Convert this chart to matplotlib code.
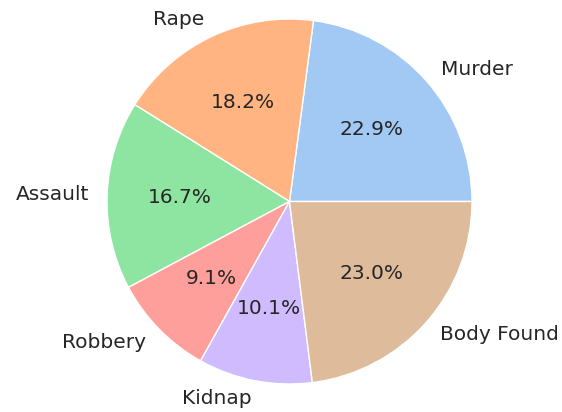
import matplotlib
matplotlib.use("Agg")
import matplotlib.pyplot as plt
import seaborn as sns

labels = ["Murder", "Rape", "Assault", "Robbery", "Kidnap", "Body Found"]
values = [22.9, 18.2, 16.7, 9.1, 10.1, 23.0]

sns.set_theme(style="white")
colors = sns.color_palette("pastel")[:len(labels)]

W, H = 562, 412
fig = plt.figure(figsize=(W / 100, H / 100), dpi=100)
R = 182.5
cx, cy = 289.5, H - 201.5
half = 1.25 * R
ax = fig.add_axes([(cx - half) / W, (cy - half) / H, 2 * half / W, 2 * half / H])
ax.pie(values, labels=labels, colors=colors, autopct="%1.1f%%",
       wedgeprops=dict(edgecolor="white", linewidth=1),
       textprops=dict(fontsize=14.5, color="#262626"))
ax.set_xlim(-1.25, 1.25)
ax.set_ylim(-1.25, 1.25)
ax.set_aspect("equal")
fig.savefig("out.png", dpi=100)
